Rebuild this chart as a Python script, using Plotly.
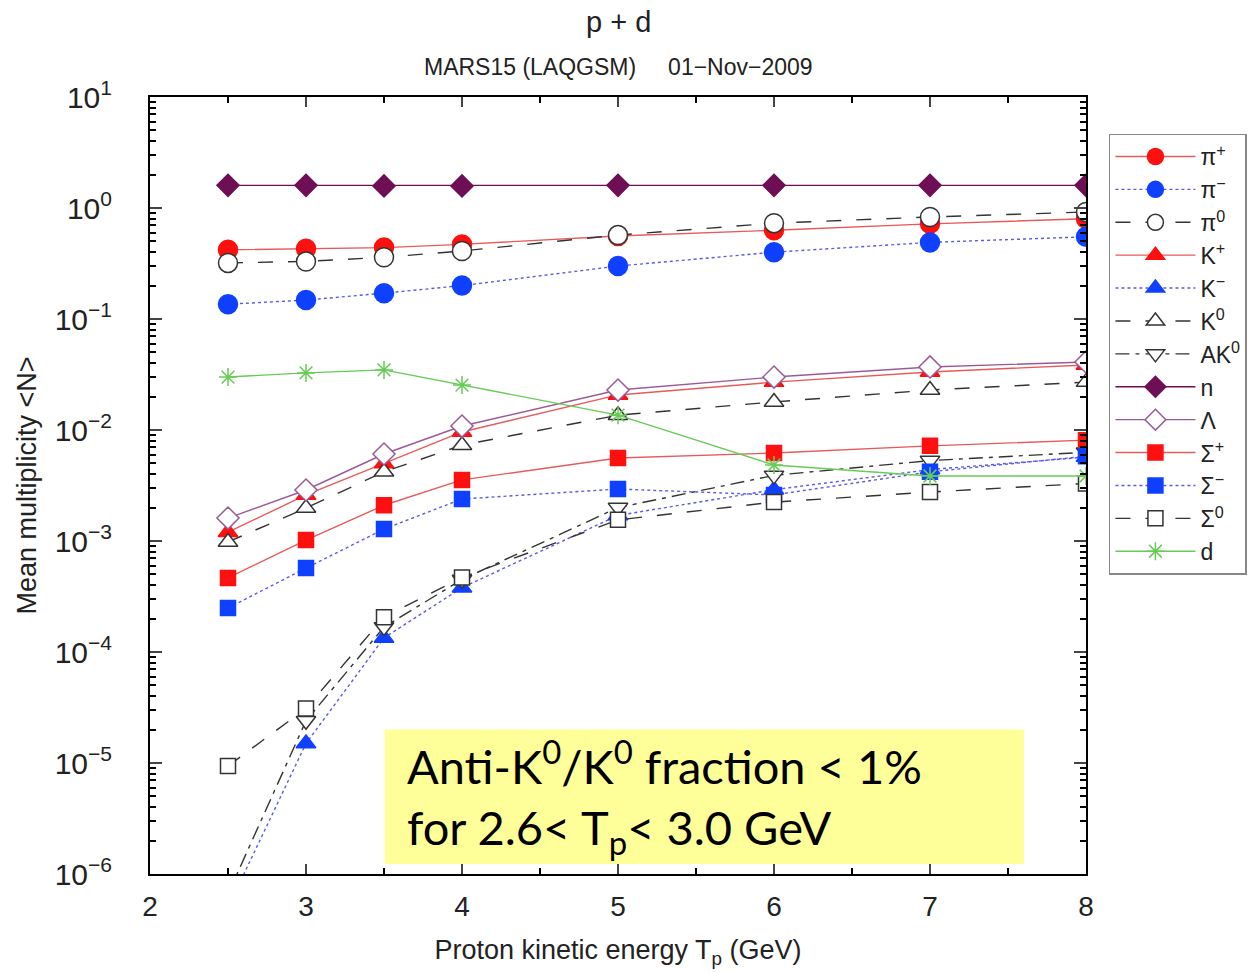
import plotly.graph_objects as go

energy = [2.5, 3, 3.5, 4, 5, 6, 7, 8]

pi_plus  = [0.42, 0.43, 0.44, 0.47, 0.56, 0.63, 0.72, 0.80]
pi_minus = [0.136, 0.148, 0.171, 0.20, 0.30, 0.40, 0.49, 0.55]
pi_zero  = [0.32, 0.33, 0.36, 0.41, 0.57, 0.73, 0.83, 0.92]
k_plus   = [0.0012, 0.0026, 0.0050, 0.0096, 0.0207, 0.027, 0.0333, 0.0385]
k_minus  = [5e-7, 1.5e-5, 1.34e-4, 3.8e-4, 0.0017, 0.0029, 0.0044, 0.0057]
k_zero   = [0.00098, 0.00198, 0.0042, 0.0073, 0.0136, 0.0179, 0.0229, 0.027]
ak_zero  = [6.6e-7, 2.4e-5, 1.68e-4, 4.5e-4, 0.0020, 0.0039, 0.0053, 0.0063]
neutron  = [1.6, 1.6, 1.58, 1.58, 1.6, 1.6, 1.6, 1.6]
lam      = [0.00161, 0.00288, 0.00608, 0.01086, 0.0229, 0.030, 0.037, 0.041]
sig_plus = [0.000465, 0.00102, 0.0021, 0.00355, 0.0056, 0.0062, 0.0072, 0.0081]
sig_minus= [0.000249, 0.00057, 0.00128, 0.00239, 0.00294, 0.0026, 0.0042, 0.0058]
sig_zero = [9.4e-6, 3.1e-5, 2.06e-4, 4.7e-4, 0.00155, 0.00224, 0.00276, 0.0033]
deut     = [0.030, 0.0327, 0.0348, 0.0254, 0.0136, 0.00484, 0.00385, 0.00385]

y_tick_vals = [1e-6, 1e-5, 1e-4, 1e-3, 1e-2, 1e-1, 1, 10]
y_tick_text = ["10<sup>−6</sup>", "10<sup>−5</sup>", "10<sup>−4</sup>", "10<sup>−3</sup>",
               "10<sup>−2</sup>", "10<sup>−1</sup>", "10<sup>0</sup>", "10<sup>1</sup>"]
x_tick_vals = [2, 3, 4, 5, 6, 7, 8]

RED = "#ff1010"
REDL = "#e85a5a"
BLUE = "#1040ff"
BLUEL = "#5a5ae6"
BLK = "#333333"
PUR = "#6e0f55"
PURL = "#9a5a9a"
GRN = "#66cc55"

series = [
    ("π<sup>+</sup>", pi_plus, "circle", 19, RED, RED, REDL, "solid"),
    ("π<sup>−</sup>", pi_minus, "circle", 19, BLUE, BLUE, BLUEL, "dot"),
    ("π<sup>0</sup>", pi_zero, "circle", 19, "white", BLK, BLK, "longdash"),
    ("K<sup>+</sup>", k_plus, "triangle-up", 17, RED, RED, REDL, "solid"),
    ("K<sup>−</sup>", k_minus, "triangle-up", 17, BLUE, BLUE, BLUEL, "dot"),
    ("K<sup>0</sup>", k_zero, "triangle-up", 17, "white", BLK, BLK, "longdash"),
    ("AK<sup>0</sup>", ak_zero, "triangle-down", 17, "white", BLK, BLK, "14px,6px,4px,6px"),
    ("n", neutron, "diamond", 17, PUR, PUR, PUR, "solid"),
    ("Λ", lam, "diamond", 17, "white", PURL, PURL, "solid"),
    ("Σ<sup>+</sup>", sig_plus, "square", 15, RED, RED, REDL, "solid"),
    ("Σ<sup>−</sup>", sig_minus, "square", 15, BLUE, BLUE, BLUEL, "dot"),
    ("Σ<sup>0</sup>", sig_zero, "square", 15, "white", BLK, BLK, "longdash"),
    ("d", deut, "asterisk-open", 15, GRN, GRN, GRN, "solid"),
]

fig = go.Figure()
for name, vals, sym, size, fill, edge, lcol, dash in series:
    fig.add_trace(go.Scatter(
        x=energy, y=vals, name=name, mode="lines+markers",
        line=dict(color=lcol, width=1.4, dash=dash),
        marker=dict(symbol=sym, size=size, color=fill,
                    line=dict(color=edge, width=1.5)),
    ))

FONT = "Liberation Sans"

fig.update_layout(
    width=1259, height=972,
    margin=dict(l=150, r=172, t=97, b=96),
    paper_bgcolor="white", plot_bgcolor="white",
    font=dict(family=FONT, size=24, color="#222"),
    showlegend=True,
    legend=dict(x=1.0245, y=0.953, xanchor="left", yanchor="top",
                bordercolor="#888", borderwidth=1.5, bgcolor="white",
                font=dict(size=23, family=FONT), tracegroupgap=0,
                itemwidth=80),
    xaxis=dict(range=[2, 8], tickvals=x_tick_vals, ticks="inside", ticklen=10,
               tickwidth=1.5, showline=True, linecolor="black", linewidth=2,
               mirror="ticks", showgrid=False, zeroline=False,
               tickfont=dict(size=28), ticklabelstandoff=6,
               minor=dict(ticks="inside", ticklen=6, dtick=0.5, tickcolor="black"),
               title=dict(text="Proton kinetic energy T<sub>p</sub> (GeV)",
                          font=dict(size=27), standoff=20)),
    yaxis=dict(type="log", range=[-6, 1], tickvals=y_tick_vals, ticktext=y_tick_text,
               ticks="inside", ticklen=12, tickwidth=1.5, showline=True,
               linecolor="black", linewidth=2, mirror="ticks", showgrid=False,
               zeroline=False, tickfont=dict(size=30), ticklabelstandoff=30,
               minor=dict(ticks="inside", ticklen=6, dtick="D1", tickcolor="black"),
               title=dict(text="Mean multiplicity &lt;N&gt;", font=dict(size=27),
                          standoff=10)),
    shapes=[dict(type="rect", xref="paper", yref="paper", x0=0.2508, x1=0.9338,
                 y0=0.0128, y1=0.1861, fillcolor="#ffff99", line=dict(width=0),
                 layer="above")],
    annotations=[
        dict(text="p + d", xref="paper", yref="paper", x=0.5, y=1.0 + 75/779,
             xanchor="center", yanchor="middle", showarrow=False,
             font=dict(size=29, family=FONT)),
        dict(text="MARS15 (LAQGSM)     01−Nov−2009", xref="paper", yref="paper",
             x=0.5, y=1.0 + 30/779, xanchor="center", yanchor="middle",
             showarrow=False, font=dict(size=23, family=FONT)),
        dict(text="Anti-K<sup>0</sup>/K<sup>0</sup> fraction &lt; 1%<br>for 2.6&lt; T<sub>p</sub>&lt; 3.0 GeV",
             xref="paper", yref="paper", x=0.272, y=0.099, xanchor="left",
             yanchor="middle", align="left", showarrow=False,
             font=dict(size=47, family="Lato, sans-serif", color="black")),
    ],
)

fig.write_html("out.html")
